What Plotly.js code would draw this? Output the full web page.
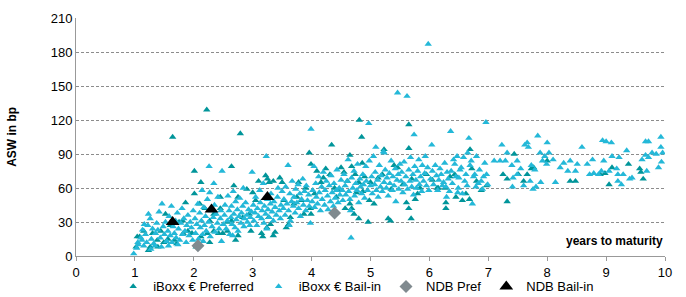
<!DOCTYPE html>
<html><head><meta charset="utf-8">
<script src="https://cdn.plot.ly/plotly-3.0.1.min.js"></script>
<style>body{margin:0;background:#fff}#c{width:686px;height:297px}</style>
</head><body><div id="c"></div>
<script>
// iBoxx € Preferred (years to maturity, ASW bp)
const prefX = [1.02,1.04,1.08,1.15,1.23,1.26,1.3,1.38,1.39,1.44,1.49,1.52,1.56,1.6,1.64,1.67,1.71,1.75,1.81,1.82,1.86,1.9,1.97,
  2.01,2.01,2.04,2.1,2.12,2.12,2.19,2.22,2.23,2.27,2.27,2.34,2.34,2.42,2.45,2.45,2.49,2.57,2.57,2.64,2.64,2.68,2.71,2.75,2.75,2.79,2.83,2.9,
  2.94,2.97,3.0,3.05,3.1,3.15,3.17,3.22,3.24,3.25,3.27,3.28,3.3,3.35,3.35,3.38,3.46,3.5,3.53,3.57,3.61,3.64,3.7,3.75,3.78,3.83,3.87,3.9,
  3.96,3.98,3.99,3.99,4.05,4.09,4.16,4.2,4.24,4.31,4.34,4.39,4.42,4.45,4.5,4.55,4.57,4.61,4.65,4.65,4.68,4.68,4.72,4.74,4.76,4.8,4.8,4.81,4.85,4.86,4.87,4.9,4.96,4.98,
  5.0,5.06,5.13,5.2,5.23,5.3,5.34,5.35,5.4,5.46,5.55,5.61,5.65,5.65,5.65,5.69,5.7,5.76,5.8,5.84,5.95,
  6.05,6.13,6.15,6.27,6.28,6.28,6.35,6.43,6.45,6.56,6.62,6.68,6.69,6.72,6.8,6.88,6.97,
  7.25,7.32,7.32,7.44,7.51,7.6,7.66,7.73,7.77,8.0,8.39,8.48,8.9,8.98,9.05,9.1,9.38,9.57,9.59,9.63];
const prefY = [8,17,17,22,5,8,20,14,8,22,12,37,15,27,105,14,11,30,31,20,47,22,20,
  75,55,8,46,65,17,42,129,20,31,12,37,22,20,52,42,20,22,30,79,31,62,14,18,52,108,34,59,
  37,22,56,49,66,20,17,71,25,68,34,65,28,66,18,21,69,65,49,25,28,34,46,52,65,49,37,60,
  91,42,37,81,55,75,65,69,77,72,98,60,52,58,78,74,42,66,89,46,79,42,37,72,56,65,33,120,105,82,57,70,30,49,
  65,46,69,72,94,33,31,59,80,78,63,47,116,95,42,33,68,50,55,60,72,
  67,60,60,60,47,42,70,72,52,49,55,50,94,77,66,58,62,
  72,48,68,90,72,66,72,77,78,84,66,66,72,73,63,78,81,77,74,68];

// iBoxx € Bail-in
const bailX = [0.98,1.03,1.05,1.06,1.1,1.12,1.13,1.15,1.16,1.18,1.2,1.22,1.23,1.26,1.27,1.28,1.3,1.32,1.34,1.35,1.37,1.39,1.41,1.43,1.45,1.46,1.48,1.5,
  1.52,1.54,1.56,1.57,1.58,1.6,1.62,1.63,1.65,1.67,1.69,1.7,1.72,1.73,1.74,1.76,1.78,1.8,1.81,1.83,1.85,1.87,1.88,1.9,1.92,1.94,1.96,1.98,1.99,
  2.02,2.03,2.05,2.07,2.08,2.1,2.11,2.13,2.14,2.15,2.16,2.17,2.18,2.2,2.21,2.23,2.25,2.26,2.27,2.28,2.3,2.31,2.33,2.34,2.35,2.36,2.38,2.4,2.41,2.43,2.45,2.46,2.47,2.48,2.5,
  2.52,2.53,2.55,2.57,2.58,2.6,2.61,2.63,2.64,2.65,2.66,2.67,2.68,2.7,2.71,2.72,2.74,2.75,2.77,2.78,2.8,2.81,2.83,2.84,2.85,2.86,2.88,2.9,2.91,2.93,2.95,2.96,2.98,2.99,
  3.01,3.02,3.04,3.05,3.07,3.08,3.1,3.12,3.13,3.15,3.16,3.18,3.19,3.2,3.22,3.23,3.24,3.25,3.26,3.28,3.3,3.31,3.33,3.35,3.36,3.38,3.4,3.42,3.43,3.45,3.47,3.48,3.5,
  3.52,3.53,3.55,3.56,3.58,3.6,3.61,3.62,3.63,3.64,3.66,3.67,3.69,3.7,3.72,3.73,3.75,3.77,3.78,3.8,3.81,3.83,3.85,3.86,3.88,3.9,3.91,3.93,3.95,3.96,3.98,3.99,
  4.01,4.02,4.04,4.05,4.07,4.08,4.1,4.12,4.13,4.15,4.17,4.18,4.2,4.22,4.23,4.25,4.27,4.28,4.3,4.32,4.33,4.35,4.37,4.38,4.4,4.42,4.43,4.45,4.47,4.48,4.5,
  4.52,4.53,4.55,4.57,4.58,4.6,4.62,4.63,4.65,4.66,4.67,4.68,4.7,4.72,4.73,4.75,4.77,4.78,4.8,4.82,4.83,4.85,4.87,4.88,4.9,4.92,4.93,4.95,4.97,4.98,5.0,
  5.02,5.03,5.05,5.07,5.08,5.09,5.1,5.12,5.13,5.15,5.17,5.18,5.2,5.22,5.23,5.23,5.25,5.27,5.28,5.3,5.32,5.33,5.35,5.37,5.38,5.4,5.42,5.43,5.45,5.46,5.47,5.48,5.5,
  5.52,5.53,5.55,5.57,5.58,5.6,5.62,5.63,5.65,5.67,5.68,5.7,5.72,5.73,5.74,5.75,5.77,5.78,5.8,5.82,5.83,5.85,5.87,5.88,5.9,5.92,5.93,5.95,5.97,5.98,5.99,
  6.02,6.04,6.05,6.07,6.1,6.12,6.14,6.16,6.18,6.2,6.22,6.24,6.26,6.28,6.29,6.3,6.32,6.34,6.36,6.37,6.39,6.41,6.43,6.45,6.47,6.48,6.49,6.5,6.52,6.54,6.56,6.58,6.6,6.62,6.64,6.65,6.67,6.69,6.71,6.73,6.75,6.77,6.79,6.8,6.83,6.85,6.88,6.9,6.92,6.94,6.96,6.97,6.99,
  7.1,7.2,7.23,7.29,7.32,7.4,7.41,7.42,7.49,7.49,7.55,7.6,7.62,7.66,7.68,7.71,7.73,7.76,7.79,7.81,7.84,7.88,7.89,7.92,7.96,7.99,8.0,8.03,
  8.1,8.14,8.22,8.28,8.35,8.39,8.48,8.51,8.59,8.68,8.72,8.77,8.79,8.87,8.92,8.94,8.96,9.0,9.05,9.09,9.1,9.18,9.2,9.2,9.22,9.26,9.29,9.35,9.4,9.44,
  9.61,9.67,9.67,9.69,9.72,9.72,9.78,9.85,9.89,9.93,9.93,9.94,9.96];
const bailY = [2,7,12,10,16,14,23,9,28,19,12,27,37,33,6,15,24,11,9,20,29,23,39,16,8,46,26,19,
  30,13,22,9,35,18,44,12,26,20,31,16,38,10,24,14,29,42,19,33,22,12,27,36,18,30,25,14,40,
  33,20,28,46,15,38,25,31,58,19,13,43,27,35,22,50,30,79,56,17,40,26,34,64,45,21,37,29,52,24,33,40,13,75,28,
  36,45,24,31,53,40,19,34,44,28,18,57,37,25,48,32,41,22,35,51,29,38,44,60,26,33,47,36,30,41,27,34,39,74,
  45,31,38,52,27,42,35,58,47,33,40,64,29,44,37,88,24,50,41,34,46,55,39,31,48,43,36,52,60,40,33,45,57,
  42,50,36,61,46,80,40,27,55,31,48,66,44,52,38,59,47,63,42,55,35,50,68,45,57,40,62,49,54,44,29,112,
  48,58,79,43,64,52,46,70,56,40,61,50,74,45,58,66,53,41,62,48,71,56,44,64,51,58,76,47,60,54,67,
  58,49,72,62,54,66,85,57,50,40,16,69,60,75,53,64,58,81,47,68,61,55,72,63,51,79,66,58,117,84,62,
  70,55,88,63,74,96,58,67,52,80,61,71,57,92,65,91,76,60,69,53,73,64,84,58,70,62,77,48,67,144,72,59,81,
  66,74,56,83,63,70,141,59,76,66,87,61,72,54,107,79,67,60,75,85,63,70,57,80,66,73,88,62,78,187,58,
  68,98,75,63,80,71,58,67,77,72,62,65,82,61,52,74,68,57,110,75,64,85,81,70,88,56,60,69,76,78,55,87,66,72,62,91,104,80,84,46,70,72,61,88,64,76,66,59,70,82,118,72,63,
  84,84,98,84,91,80,61,69,84,72,77,62,98,100,96,66,80,59,76,61,106,91,65,84,88,81,100,91,
  85,65,78,82,75,84,75,81,96,81,72,85,73,72,75,102,84,101,75,100,88,77,72,66,87,63,72,93,68,69,
  85,89,101,75,87,101,91,90,78,96,105,83,91];

// NDB
const ndbPrefX = [2.07, 4.39];
const ndbPrefY = [9, 38];
const ndbBailX = [1.64, 2.3, 3.25];
const ndbBailY = [30, 41, 52];

const yTicks = [0,30,60,90,120,150,180,210];
const xTicks = [0,1,2,3,4,5,6,7,8,9,10];

const traces = [
  {type:'scatter', mode:'markers', name:'iBoxx € Preferred', x:prefX, y:prefY,
   marker:{symbol:'triangle-up', size:6.5, color:'#00959a'}},
  {type:'scatter', mode:'markers', name:'iBoxx € Bail-in', x:bailX, y:bailY,
   marker:{symbol:'triangle-up', size:6.5, color:'#24b8d8'}},
  {type:'scatter', mode:'markers', name:'NDB Pref', x:ndbPrefX, y:ndbPrefY,
   marker:{symbol:'diamond', size:10, color:'#808a8f'}},
  {type:'scatter', mode:'markers', name:'NDB Bail-in', x:ndbBailX, y:ndbBailY,
   marker:{symbol:'triangle-up', size:12, color:'#000000'}}
];

const layout = {
  width:686, height:297,
  margin:{l:76, r:21, t:18, b:41, autoexpand:false},
  paper_bgcolor:'#fff', plot_bgcolor:'#fff',
  font:{family:'Liberation Sans, Arial, sans-serif', size:13, color:'#000'},
  showlegend:true,
  legend:{orientation:'h', xref:'container', yref:'paper', x:0.165, xanchor:'left', y:-0.065, yanchor:'top',
    bgcolor:'rgba(0,0,0,0)', borderwidth:0, font:{size:13}, traceorder:'normal', tracegroupgap:0, itemwidth:20},
  xaxis:{range:[0,10], tickvals:xTicks, ticktext:xTicks.map(String), showgrid:false, zeroline:false,
    showline:true, linecolor:'#999', linewidth:1, ticks:'outside', ticklen:4, tickcolor:'#999', fixedrange:true,
    tickfont:{size:13}},
  yaxis:{range:[0,210], tickvals:yTicks, ticktext:yTicks.map(String), showgrid:true, gridcolor:'#8c8c8c',
    griddash:'3px,2px', gridwidth:1, zeroline:false, showline:true, linecolor:'#999', linewidth:1,
    ticks:'', tickfont:{size:13}, fixedrange:true},
  annotations:[
    {xref:'paper', yref:'paper', x:1, y:0.025, xanchor:'right', yanchor:'bottom',
     text:'<b>years to maturity</b>', showarrow:false, font:{size:12, color:'#000'}},
    {xref:'paper', yref:'paper', x:-0.109, y:0.5, xanchor:'center', yanchor:'middle', textangle:-90,
     text:'<b>ASW in bp</b>', showarrow:false, font:{size:12, color:'#000'}}
  ]
};
Plotly.newPlot('c', traces, layout, {displayModeBar:false, staticPlot:true});
</script></body></html>
